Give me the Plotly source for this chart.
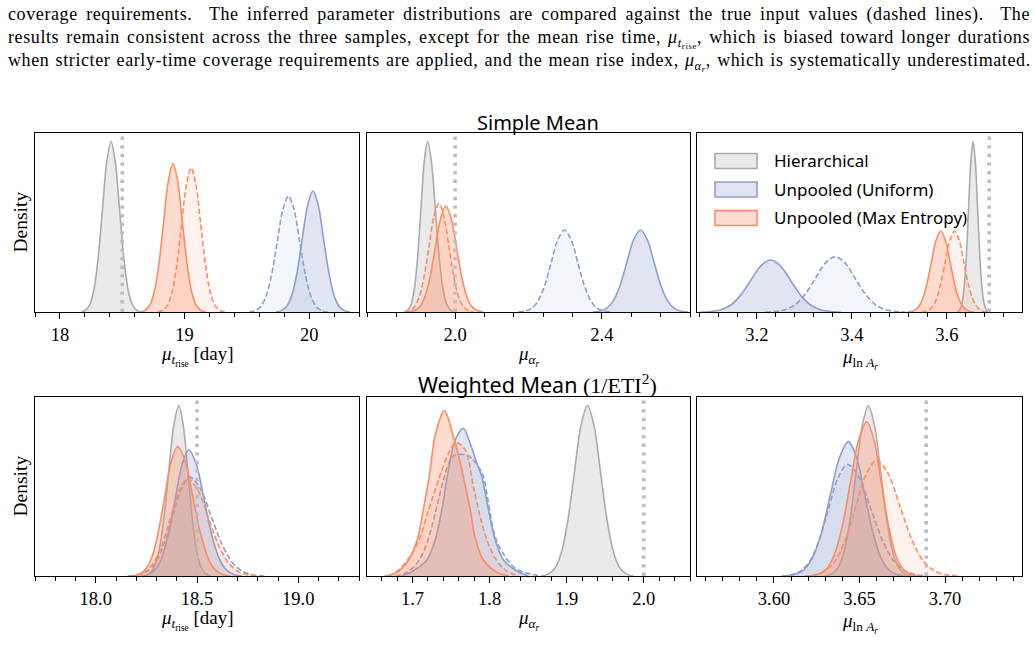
import plotly.graph_objects as go

W, H = 1035, 656

# ---------------- data (heights relative to tallest curve) -------------
P = [0, .011, .044, .135, .325, .607, .882, 1.0, .882, .607, .325, .135, .044, .011, 0]

# top-left: mu_t_rise, simple mean
tl_hier_x = [18.172, 18.206, 18.24, 18.274, 18.308, 18.342, 18.376, 18.41, 18.444, 18.478, 18.512, 18.546, 18.58, 18.614, 18.648]
tl_hier_y = P
tl_unif_x = [19.733, 19.775, 19.818, 19.86, 19.903, 19.945, 19.988, 20.03, 20.073, 20.115, 20.158, 20.2, 20.243, 20.285, 20.328]
tl_unif_y = [0, .008, .031, .096, .231, .432, .627, .711, .627, .432, .231, .096, .031, .008, 0]
tl_unif2_x = [19.519, 19.564, 19.609, 19.654, 19.699, 19.744, 19.789, 19.834, 19.879, 19.924, 19.969, 20.014, 20.059, 20.104, 20.149]
tl_unif2_y = [0, .007, .03, .092, .221, .413, .6, .68, .6, .413, .221, .092, .03, .007, 0]
tl_maxent_x = [18.645, 18.682, 18.72, 18.757, 18.795, 18.832, 18.87, 18.907, 18.945, 18.982, 19.02, 19.057, 19.095, 19.132, 19.17]
tl_maxent_y = [0, .01, .038, .118, .283, .529, .769, .872, .769, .529, .283, .118, .038, .01, 0]
tl_maxent2_x = [18.784, 18.822, 18.861, 18.899, 18.938, 18.976, 19.015, 19.053, 19.092, 19.13, 19.169, 19.207, 19.246, 19.284, 19.323]
tl_maxent2_y = [0, .009, .037, .114, .275, .514, .746, .846, .746, .514, .275, .114, .037, .009, 0]

# top-middle: mu_alpha_r, simple mean
tm_hier_x = [1.862, 1.871, 1.88, 1.889, 1.898, 1.907, 1.916, 1.925, 1.9355, 1.946, 1.9565, 1.967, 1.9775, 1.988, 1.9985]
tm_hier_y = P
tm_unif_x = [2.3755, 2.394, 2.4125, 2.431, 2.4495, 2.468, 2.4865, 2.505, 2.5235, 2.542, 2.5605, 2.579, 2.5975, 2.616, 2.6345]
tm_unif_y = [0, .005, .021, .065, .156, .292, .424, .481, .424, .292, .156, .065, .021, .005, 0]
tm_unif2_x = [2.172, 2.19, 2.208, 2.226, 2.244, 2.262, 2.28, 2.298, 2.316, 2.334, 2.352, 2.37, 2.388, 2.406, 2.424]
tm_unif2_y = [0, .005, .021, .065, .156, .292, .424, .481, .424, .292, .156, .065, .021, .005, 0]
tm_maxent_x = [1.8735, 1.888, 1.9025, 1.917, 1.9315, 1.946, 1.9605, 1.975, 1.9895, 2.004, 2.0185, 2.033, 2.0475, 2.062, 2.0765]
tm_maxent_y = [0, .007, .027, .084, .202, .378, .549, .622, .549, .378, .202, .084, .027, .007, 0]
tm_maxent2_x = [1.8615, 1.875, 1.8885, 1.902, 1.9155, 1.929, 1.9425, 1.956, 1.9695, 1.983, 1.9965, 2.01, 2.0235, 2.037, 2.0505]
tm_maxent2_y = [0, .007, .028, .086, .207, .387, .562, .637, .562, .387, .207, .086, .028, .007, 0]

# top-right: mu_lnA_r, simple mean
tr_hier_x = [3.622, 3.6265, 3.6313, 3.636, 3.6408, 3.6455, 3.6503, 3.655, 3.6598, 3.6645, 3.6693, 3.674, 3.6788, 3.6835, 3.6883]
tr_hier_y = P
tr_unif_x = [3.082, 3.103, 3.124, 3.145, 3.166, 3.187, 3.208, 3.229, 3.25, 3.271, 3.292, 3.313, 3.334, 3.355, 3.376]
tr_unif_y = [0, .003, .013, .041, .099, .185, .269, .305, .269, .185, .099, .041, .013, .003, 0]
tr_unif2_x = [3.218, 3.239, 3.26, 3.281, 3.302, 3.323, 3.344, 3.365, 3.386, 3.407, 3.428, 3.449, 3.47, 3.491, 3.512]
tr_unif2_y = [0, .004, .014, .044, .106, .197, .287, .325, .287, .197, .106, .044, .014, .004, 0]
tr_maxent_x = [3.517, 3.527, 3.537, 3.547, 3.557, 3.567, 3.577, 3.587, 3.597, 3.607, 3.617, 3.627, 3.637, 3.647, 3.657]
tr_maxent_y = [0, .005, .021, .064, .154, .288, .419, .475, .419, .288, .154, .064, .021, .005, 0]
tr_maxent2_x = [3.546, 3.556, 3.566, 3.576, 3.586, 3.596, 3.606, 3.616, 3.626, 3.636, 3.646, 3.656, 3.666, 3.676, 3.686]
tr_maxent2_y = [0, .005, .021, .064, .154, .288, .419, .475, .419, .288, .154, .064, .021, .005, 0]

# bottom-left: mu_t_rise, weighted mean
bl_hier_x = [18.235, 18.26, 18.285, 18.31, 18.335, 18.36, 18.385, 18.41, 18.4325, 18.455, 18.4775, 18.5, 18.5225, 18.545, 18.5675]
bl_hier_y = P
bl_unif_x = [18.222, 18.256, 18.29, 18.324, 18.358, 18.392, 18.426, 18.46, 18.4975, 18.535, 18.5725, 18.61, 18.6475, 18.685, 18.7225]
bl_unif_y = [0, .008, .033, .1, .241, .449, .653, .74, .653, .449, .241, .1, .033, .008, 0]
bl_unif2_x = [18.1675, 18.21, 18.2525, 18.295, 18.3375, 18.38, 18.4225, 18.465, 18.5175, 18.57, 18.6225, 18.675, 18.7275, 18.78, 18.8325]
bl_unif2_y = [0, .006, .026, .078, .189, .352, .512, .58, .512, .352, .189, .078, .026, .006, 0]
bl_maxent_x = [18.177, 18.21, 18.242, 18.275, 18.307, 18.34, 18.372, 18.405, 18.443, 18.48, 18.518, 18.555, 18.593, 18.63, 18.668]
bl_maxent_y = [0, .008, .033, .103, .247, .461, .67, .76, .67, .461, .247, .103, .033, .008, 0]
bl_maxent2_x = [18.1575, 18.2, 18.2425, 18.285, 18.3275, 18.37, 18.4125, 18.455, 18.505, 18.555, 18.605, 18.655, 18.705, 18.755, 18.805]
bl_maxent2_y = [0, .006, .025, .077, .185, .346, .503, .57, .503, .346, .185, .077, .025, .006, 0]

# bottom-middle: mu_alpha_r, weighted mean
bm_hier_x = [1.8675, 1.876, 1.8845, 1.893, 1.9015, 1.91, 1.9185, 1.927, 1.9355, 1.944, 1.9525, 1.961, 1.9695, 1.978, 1.9865]
bm_hier_y = P
bm_unif_x = [1.686, 1.699, 1.7187, 1.7294, 1.738, 1.7467, 1.7554, 1.766, 1.7748, 1.7835, 1.79, 1.7986, 1.8073, 1.818, 1.8332, 1.85]
bm_unif_y = [0, .025, .094, .211, .387, .622, .798, .866, .778, .661, .582, .387, .211, .094, .035, 0]
bm_unif2_x = [1.6776, 1.6905, 1.7057, 1.7187, 1.7294, 1.7402, 1.7489, 1.7554, 1.7706, 1.777, 1.7856, 1.7921, 1.7986, 1.8073, 1.818, 1.8332, 1.8527, 1.8678]
bm_unif2_y = [0, .016, .074, .192, .368, .563, .68, .71, .71, .69, .641, .582, .426, .23, .129, .045, .012, 0]
bm_maxent_x = [1.664, 1.678, 1.695, 1.706, 1.714, 1.723, 1.729, 1.7415, 1.753, 1.758, 1.764, 1.775, 1.781, 1.792, 1.812, 1.825]
bm_maxent_y = [0, .016, .094, .211, .387, .622, .817, .97, .817, .739, .622, .387, .23, .094, .016, 0]
bm_maxent2_x = [1.6689, 1.6818, 1.6992, 1.71, 1.7208, 1.7337, 1.7467, 1.757, 1.7684, 1.7791, 1.7878, 1.7965, 1.8073, 1.8202, 1.8375]
bm_maxent2_y = [0, .035, .129, .23, .387, .563, .72, .782, .74, .524, .348, .211, .104, .035, 0]

# bottom-right: mu_lnA_r, weighted mean
br_hier_x = [3.63, 3.6336, 3.6372, 3.6408, 3.6444, 3.648, 3.6516, 3.6552, 3.6588, 3.6624, 3.666, 3.6696, 3.6732, 3.6768, 3.6804]
br_hier_y = P
br_unif_x = [3.6068, 3.612, 3.6173, 3.6225, 3.6278, 3.633, 3.6383, 3.6435, 3.6483, 3.653, 3.6578, 3.6625, 3.6673, 3.672, 3.6768]
br_unif_y = [0, .009, .035, .106, .256, .478, .695, .788, .695, .478, .256, .106, .035, .009, 0]
br_unif2_x = [3.6045, 3.61, 3.6155, 3.621, 3.6265, 3.632, 3.6375, 3.643, 3.6498, 3.6565, 3.6633, 3.67, 3.6768, 3.6835, 3.6903]
br_unif2_y = [0, .007, .029, .088, .213, .398, .578, .655, .578, .398, .213, .088, .029, .007, 0]
br_maxent_x = [3.621, 3.6258, 3.6305, 3.6352, 3.64, 3.6447, 3.6495, 3.6542, 3.6585, 3.6627, 3.667, 3.6712, 3.6755, 3.6797, 3.684]
br_maxent_y = [0, .01, .04, .122, .294, .549, .798, .905, .798, .549, .294, .122, .04, .01, 0]
br_maxent2_x = [3.618, 3.624, 3.63, 3.636, 3.642, 3.648, 3.654, 3.66, 3.6668, 3.6735, 3.6803, 3.687, 3.6938, 3.7005, 3.7073]
br_maxent2_y = [0, .007, .03, .092, .221, .413, .6, .68, .6, .413, .221, .092, .03, .007, 0]

true_values = [18.5, 2.0, 3.689, 18.5, 2.0, 3.689]
legend_labels = ["Hierarchical", "Unpooled (Uniform)", "Unpooled (Max Entropy)"]
row_titles = ["Simple Mean",
              "Weighted Mean <span style='font-family:Liberation Serif;font-size:22px'>(1/ETI<sup>2</sup>)</span>"]
row_title_sizes = [20, 21.5]

MU_T = "<i>μ</i><sub><i>t</i><sub>rise</sub></sub>"
MU_A = "<i>μ</i><sub><i>α</i><sub><i>r</i></sub></sub>"
MU_L = "<i>μ</i><sub>ln <i>A</i><sub><i>r</i></sub></sub>"
x_labels = [MU_T + " [day]", MU_A, MU_L, MU_T + " [day]", MU_A, MU_L]

caption = [
    "coverage requirements.  The inferred parameter distributions are compared against the true input values (dashed lines).  The",
    "results remain consistent across the three samples, except for the mean rise time, " + MU_T + ", which is biased toward longer durations",
    "when stricter early-time coverage requirements are applied, and the mean rise index, " + MU_A + ", which is systematically underestimated.",
]
caption_word_spacing = [3.3, 2.0, 1.1]

# ---------------- styles ----------------
GRAY, BLUE, ORANGE = "#ababab", "#8da0cb", "#fc8d62"
FILL = {
    "hier": "rgba(171,171,171,0.25)",
    "unif": "rgba(141,160,203,0.27)",
    "unif2": "rgba(141,160,203,0.11)",
    "maxent": "rgba(252,141,98,0.30)",
    "maxent2": "rgba(252,141,98,0.11)",
}
LINE = {"hier": GRAY, "unif": BLUE, "unif2": BLUE, "maxent": ORANGE, "maxent2": ORANGE}
DASH = {"hier": "solid", "unif": "solid", "unif2": "5.5px,2.6px", "maxent": "solid", "maxent2": "5.5px,2.6px"}
SERIF = "Liberation Serif"
SANS = "Noto Sans"

# panel pixel boxes (left, top, right, bottom)
cols = [(35, 359), (367, 690), (697, 1022)]
rows = [(133, 312), (397, 576)]
label_offsets = [44, 44, 47]
ranges = [[17.8, 20.4], [1.76, 2.64], [3.074, 3.758], [17.7, 19.3], [1.641, 2.06], [3.555, 3.745]]
ticks = [(18, 1, 0.2, ".0f"), (2.0, 0.4, 0.08, ".1f"), (3.2, 0.2, 0.04, ".1f"),
         (18.0, 0.5, 0.1, ".1f"), (1.7, 0.1, 0.02, ".1f"), (3.6, 0.05, 0.01, ".2f")]

panels = ["tl", "tm", "tr", "bl", "bm", "br"]
g = globals()

fig = go.Figure()
for i, p in enumerate(panels):
    ax = "" if i == 0 else str(i + 1)
    for key in ["hier", "unif", "unif2", "maxent", "maxent2"]:
        xs = g.get(f"{p}_{key}_x")
        ys = g.get(f"{p}_{key}_y")
        fig.add_trace(go.Scatter(
            x=xs, y=ys, mode="lines", xaxis="x" + ax, yaxis="y" + ax,
            line=dict(color=LINE[key], width=1.6, dash=DASH[key], shape="spline", smoothing=0.9),
            fill="tozeroy", fillcolor=FILL[key], showlegend=False, hoverinfo="skip"))

def px(x):
    return x / W

def py(y):
    return 1 - y / H

layout = dict(width=W, height=H, margin=dict(l=0, r=0, t=0, b=0),
              plot_bgcolor="white", paper_bgcolor="white", showlegend=False)
shapes, annotations = [], []
for i in range(6):
    r, c = divmod(i, 3)
    x0, x1 = cols[c]
    y0, y1 = rows[r]
    ax = "" if i == 0 else str(i + 1)
    t0, dt, mdt, fmt = ticks[i]
    layout["xaxis" + ax] = dict(
        domain=[px(x0), px(x1)], range=ranges[i], anchor="y" + ax,
        showline=True, mirror=True, linecolor="black", linewidth=1,
        ticks="outside", ticklen=6, tickwidth=1, tickcolor="black",
        tick0=t0, dtick=dt, tickformat=fmt,
        tickfont=dict(family=SERIF, size=18.5, color="black"),
        minor=dict(ticks="outside", ticklen=3.5, tickwidth=0.8, tickcolor="black", dtick=mdt, tick0=t0),
        showgrid=False, zeroline=False, fixedrange=True)
    layout["yaxis" + ax] = dict(
        domain=[py(y1), py(y0)], range=[0, 1.05], anchor="x" + ax,
        showline=True, mirror=True, linecolor="black", linewidth=1,
        showticklabels=False, ticks="", showgrid=False, zeroline=False, fixedrange=True)
    shapes.append(dict(type="line", xref="x" + ax, yref="y" + ax + " domain",
                       x0=true_values[i], x1=true_values[i], y0=0, y1=1,
                       line=dict(color="#bdbdbd", width=3.6, dash="3.4px,5.2px"), layer="above"))
    annotations.append(dict(text=x_labels[i], x=px((x0 + x1) / 2), y=py(y1 + label_offsets[c]),
                            xref="paper", yref="paper",
                            showarrow=False, xanchor="center", yanchor="middle",
                            font=dict(family=SERIF, size=19, color="black")))

for r, title in enumerate(row_titles):
    annotations.append(dict(text=title, x=px(537.5), y=py([122, 384][r]), xref="paper", yref="paper",
                            showarrow=False, xanchor="center", yanchor="middle",
                            font=dict(family=SANS, size=row_title_sizes[r], color="black")))
    annotations.append(dict(text="Density", x=px(20), y=py((rows[r][0] + rows[r][1]) / 2), xref="paper", yref="paper",
                            showarrow=False, textangle=-90, xanchor="center", yanchor="middle",
                            font=dict(family=SERIF, size=19.5, color="black")))

# legend (top-right panel)
leg_fill = [FILL["hier"], FILL["unif"], FILL["maxent"]]
leg_line = [GRAY, BLUE, ORANGE]
for k, lab in enumerate(legend_labels):
    yc = 161 + k * 28.5
    shapes.append(dict(type="rect", xref="paper", yref="paper", x0=px(715), x1=px(757),
                       y0=py(yc + 7.5), y1=py(yc - 7.5), fillcolor=leg_fill[k],
                       line=dict(color=leg_line[k], width=1.6), layer="above"))
    annotations.append(dict(text=lab, x=px(772), y=py(yc), xref="paper", yref="paper", showarrow=False,
                            xanchor="left", yanchor="middle", font=dict(family=SANS, size=17, color="black")))

for k, line in enumerate(caption):
    styled = ("<span style='letter-spacing:0.6px;word-spacing:%spx'>" % caption_word_spacing[k]) + line + "</span>"
    annotations.append(dict(text=styled, x=px(6), y=py([15, 38.5, 62][k]), xref="paper", yref="paper",
                            showarrow=False, xanchor="left", yanchor="middle",
                            font=dict(family=SERIF, size=18, color="black")))

layout["shapes"] = shapes
layout["annotations"] = annotations
fig.update_layout(**layout)
fig.write_html("out.html")
